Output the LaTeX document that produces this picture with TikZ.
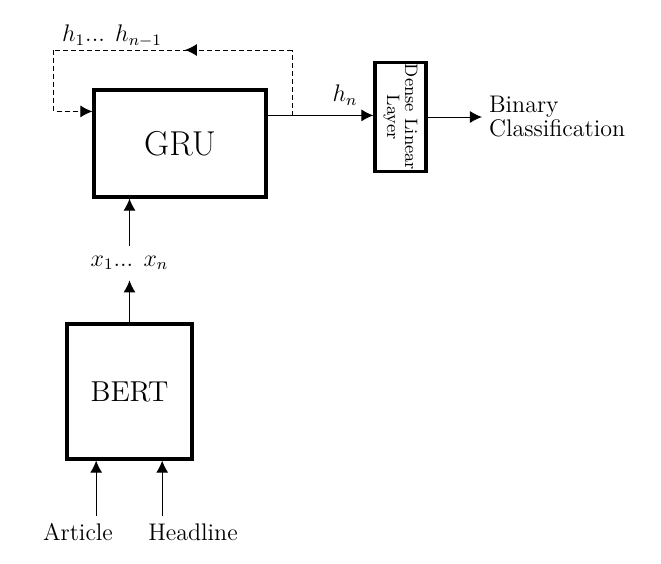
\documentclass[tikz,border=0pt]{standalone}
\usetikzlibrary{arrows.meta,calc,positioning}
\begin{document}
\begin{tikzpicture}[x=0.5pt,y=-0.5pt,
    block/.style={draw=black,line width=1.6pt,inner sep=0pt},
    arr/.style={-{Latex[length=6pt,width=6pt]},line width=0.5pt},
    dashline/.style={dash pattern=on 2.5pt off 1.5pt}]
                \useasboundingbox (0,0) rectangle (661,564);
                \node[block,minimum width=86pt,minimum height=53.5pt] (gru) at (180,143.5) {\LARGE GRU};
                \node[block,minimum width=54.5pt,minimum height=25.5pt,rotate=-90,align=center] (dense) at (400.5,117) {\small Dense Linear\\[-3pt]\small Layer};
                \node[block,minimum width=62.5pt,minimum height=67.5pt] (bert) at (129.5,391.5) {\Large BERT};
                \node[inner sep=5pt] (xin) at (129.5,263) {\large $x_1$... $x_n$};
                \node (hall) at (112,36) {\large $h_1$... $h_{n-1}$};
                \node (hlast) at (345,95) {\large $h_n$};
                \node[anchor=west,align=left] (binary) at (482,117) {\large Binary\\\large Classification};
                \node[anchor=base] (article) at (78,540) {\large Article};
                \node[anchor=base] (headline) at (193,540) {\large Headline};
                \coordinate (gout) at ($(gru.north east)+(0,27)$);
                \coordinate (gin) at ($(gru.north west)+(0,23)$);
                \coordinate (fbr) at (292,50);
                \coordinate (fbl) at (54,50);
                \coordinate (in1) at ($(bert.south west)!0.24!(bert.south east)$);
                \coordinate (in2) at ($(bert.south west)!0.755!(bert.south east)$);
                \draw[arr] (gout) -- (gout -| dense.south);
                \draw[arr] (dense.north) -- (binary.west);
                \draw[dashline] (gout) -| (fbr);
                \draw[dashline] (fbr) -- (fbl);
                \draw[dashline,arr] (fbr) -- ($(fbr)!0.45!(fbl)$);
                \draw[dashline,arr] (fbl) |- (gin);
                \draw[arr] (xin) -- (xin |- gru.south);
                \draw[arr] (bert) -- (xin);
                \draw[arr] (in1 |- article.north) -- (in1);
                \draw[arr] (in2 |- headline.north) -- (in2);
\end{tikzpicture}
\end{document}
